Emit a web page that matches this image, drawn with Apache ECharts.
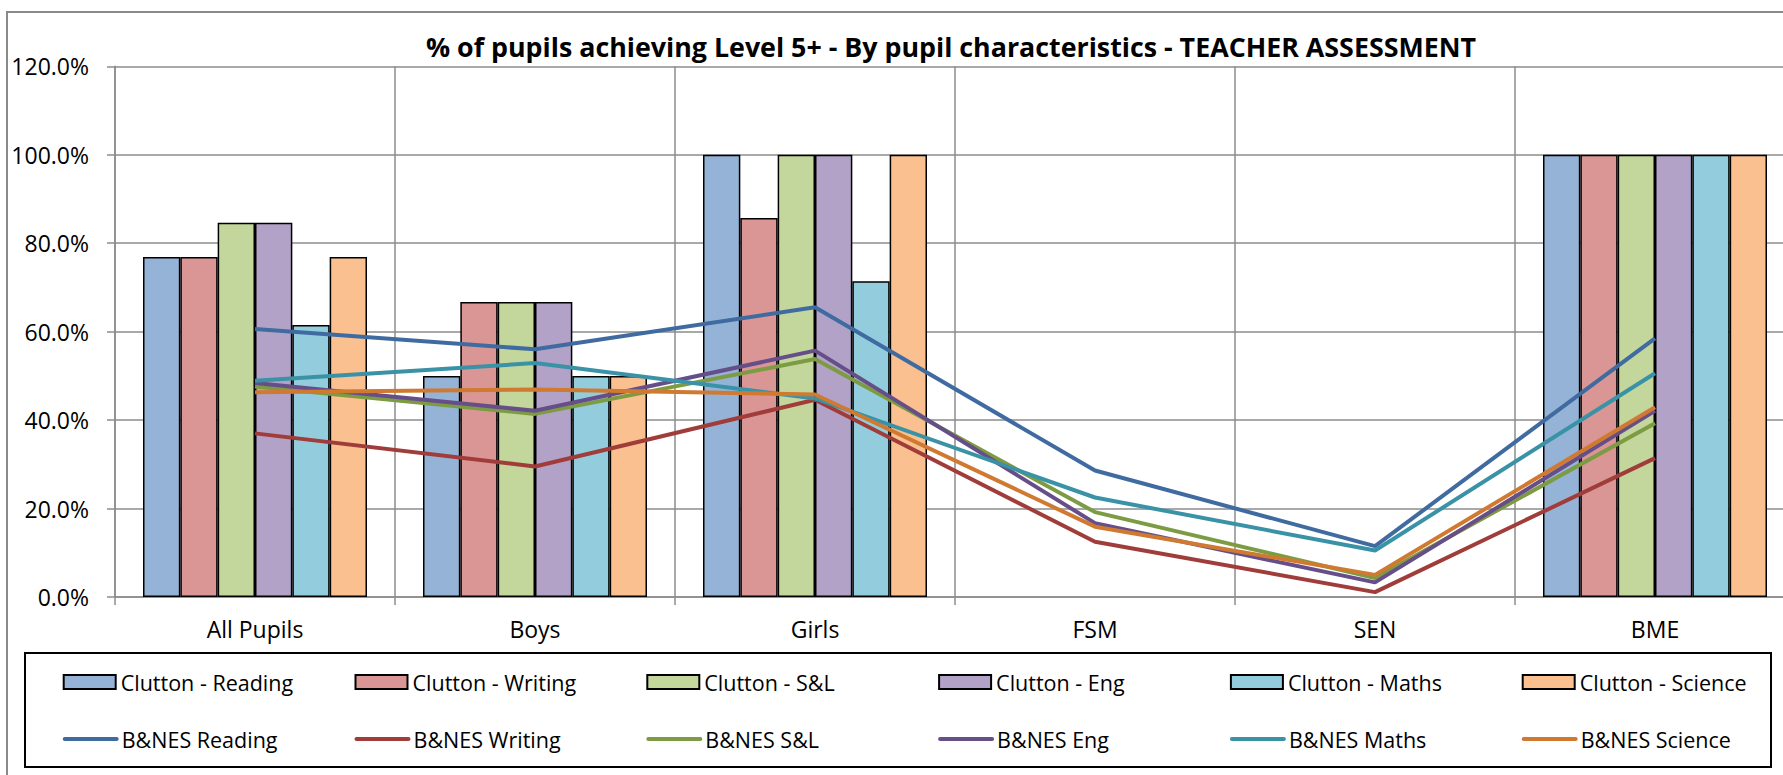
<!DOCTYPE html>
<html>
<head>
<meta charset="utf-8">
<script src="https://cdn.jsdelivr.net/npm/echarts@6/dist/echarts.min.js"></script>
<style>
html,body{margin:0;padding:0;background:#fff;}
#chart{width:1783px;height:775px;}
</style>
</head>
<body>
<div id="chart"></div>
<script>
const categories = ['All Pupils', 'Boys', 'Girls', 'FSM', 'SEN', 'BME'];

const cluttonReading = [76.9, 50.0, 100, null, null, 100];
const cluttonWriting = [76.9, 66.7, 85.7, null, null, 100];
const cluttonSL      = [84.6, 66.7, 100, null, null, 100];
const cluttonEng     = [84.6, 66.7, 100, null, null, 100];
const cluttonMaths   = [61.5, 50.0, 71.4, null, null, 100];
const cluttonScience = [76.9, 50.0, 100, null, null, 100];

const bnesReading = [60.6, 56.0, 65.5, 28.6, 11.5, 58.5];
const bnesWriting = [37.0, 29.5, 44.6, 12.5, 1.1, 31.4];
const bnesSL      = [47.6, 41.4, 53.8, 19.2, 4.3, 39.3];
const bnesEng     = [48.4, 42.1, 55.7, 16.7, 3.3, 42.1];
const bnesMaths   = [48.9, 52.9, 44.9, 22.5, 10.5, 50.6];
const bnesScience = [46.3, 46.9, 45.8, 15.9, 5.0, 42.9];

const yMin = 0, yMax = 120, yInterval = 20;

const barNames = ['Clutton - Reading', 'Clutton - Writing', 'Clutton - S&L', 'Clutton - Eng', 'Clutton - Maths', 'Clutton - Science'];
const lineNames = ['B&NES Reading', 'B&NES Writing', 'B&NES S&L', 'B&NES Eng', 'B&NES Maths', 'B&NES Science'];
const barData = [cluttonReading, cluttonWriting, cluttonSL, cluttonEng, cluttonMaths, cluttonScience];
const lineData = [bnesReading, bnesWriting, bnesSL, bnesEng, bnesMaths, bnesScience];
const barColors = ['#95B3D7', '#D99694', '#C3D69B', '#B3A2C7', '#93CDDD', '#FAC090'];
const lineColors = ['#3F6BA1', '#A03D3A', '#7D9B42', '#664E88', '#3A92A7', '#D07A31'];

const FONT = "'Open Sans', sans-serif";
const GRID_COLOR = '#8C8C8C';

const series = [];
barNames.forEach((n, i) => {
  series.push({
    name: n, type: 'bar', data: barData[i],
    barGap: '0%', barCategoryGap: '20%',
    itemStyle: { color: barColors[i], borderColor: '#000', borderWidth: 1.5 },
    z: 2
  });
});
lineNames.forEach((n, i) => {
  series.push({
    name: n, type: 'line', data: lineData[i],
    symbol: 'none', showSymbol: false,
    lineStyle: { color: lineColors[i], width: 4 },
    itemStyle: { color: lineColors[i] },
    z: 3 + i
  });
});

const legends = [];
const legStartX = 62.7, legStep = 291.8;
barNames.forEach((n, i) => {
  legends.push({
    data: [{ name: n, icon: 'rect' }], left: legStartX + i * legStep, top: 671, padding: 0,
    itemWidth: 52, itemHeight: 14, itemGap: 0, selectedMode: false,
    textStyle: { fontFamily: FONT, fontSize: 21.5, color: '#000' }
  });
});
lineNames.forEach((n, i) => {
  legends.push({
    data: [n], left: legStartX + i * legStep, top: 728, padding: 0,
    itemWidth: 52, itemHeight: 14, itemGap: 0, selectedMode: false,
    itemStyle: { color: 'rgba(0,0,0,0)', borderWidth: 0, opacity: 0 },
    lineStyle: { width: 4, cap: 'round' },
    textStyle: { fontFamily: FONT, fontSize: 21.5, color: '#000' }
  });
});

const chart = echarts.init(document.getElementById('chart'), null, { renderer: 'svg' });
chart.setOption({
  animation: false,
  backgroundColor: '#fff',
  title: {
    text: '% of pupils achieving Level 5+ - By pupil characteristics - TEACHER ASSESSMENT',
    left: 946, top: 28, textAlign: 'center',
    textStyle: { fontFamily: FONT, fontSize: 26.8, fontWeight: 'bold', color: '#000' }
  },
  legend: legends,
  grid: { left: 115, top: 66.3, width: 1680, bottom: 178, containLabel: false, outerBoundsMode: 'none' },
  xAxis: {
    type: 'category', data: categories, boundaryGap: true,
    axisLine: { show: true, lineStyle: { color: GRID_COLOR, width: 1.5 } },
    axisTick: { show: true, length: 8, lineStyle: { color: GRID_COLOR, width: 1.5 } },
    splitLine: { show: true, lineStyle: { color: GRID_COLOR, width: 1.5 } },
    axisLabel: { fontFamily: FONT, fontSize: 23, color: '#000', margin: 20 }
  },
  yAxis: {
    type: 'value', min: yMin, max: yMax, interval: yInterval,
    axisLine: { show: true, lineStyle: { color: GRID_COLOR, width: 1.5 } },
    axisTick: { show: true, length: 8, lineStyle: { color: GRID_COLOR, width: 1.5 } },
    splitLine: { show: true, lineStyle: { color: GRID_COLOR, width: 1.5 } },
    axisLabel: { fontFamily: FONT, fontSize: 23, color: '#000', margin: 26,
      formatter: v => v.toFixed(1) + '%' }
  },
  graphic: [
    { type: 'rect', shape: { x: 7, y: 12, width: 1800, height: 800 },
      style: { fill: 'none', stroke: '#8A8A8A', lineWidth: 2 }, silent: true, z: -1 },
    { type: 'rect', shape: { x: 25, y: 653, width: 1746, height: 114 },
      style: { fill: 'none', stroke: '#000', lineWidth: 2 }, silent: true, z: -1 }
  ],
  series: series
});
</script>
</body>
</html>
